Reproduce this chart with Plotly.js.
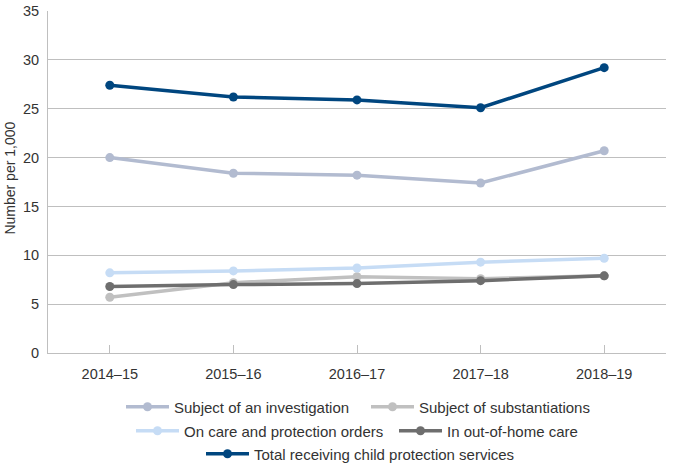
<!DOCTYPE html>
<html>
<head>
<meta charset="utf-8">
<script src="https://cdn.plot.ly/plotly-3.0.1.min.js"></script>
<style>html,body{margin:0;padding:0;background:#fff;}#chart{width:675px;height:468px;}</style>
</head>
<body>
<div id="chart"></div>
<script>
var years = ["2014\u201315", "2015\u201316", "2016\u201317", "2017\u201318", "2018\u201319"];
var investigation = [20.0, 18.4, 18.2, 17.4, 20.7];
var substantiations = [5.7, 7.2, 7.8, 7.6, 7.9];
var careOrders = [8.2, 8.4, 8.7, 9.3, 9.7];
var outOfHome = [6.8, 7.0, 7.1, 7.4, 7.9];
var total = [27.4, 26.2, 25.9, 25.1, 29.2];

var names = ["Subject of an investigation", "Subject of substantiations", "On care and protection orders", "In out-of-home care", "Total receiving child protection services"];
var series = [investigation, substantiations, careOrders, outOfHome, total];
var colors = ["#b2bbd0", "#c0c0c0", "#c6dcf5", "#6e6e6e", "#00467f"];
var legendIds = ["legend", "legend2", "legend3", "legend4", "legend5"];

var traces = series.map(function (s, i) {
  return {
    x: years, y: s, name: names[i], type: "scatter", mode: "lines+markers",
    line: {color: colors[i], width: 3.5},
    marker: {color: colors[i], size: 9},
    legend: legendIds[i]
  };
});

var FONT = "Liberation Sans, Arial, sans-serif";
// legend placement in pixels (left edge of symbol, row centre)
var legPos = [[127, 407], [372, 407], [137, 431], [400, 431], [207, 454]];
function leg(p) {
  return {orientation: "h", x: (p[0] - 6 - 48) / 618, xanchor: "left", xref: "paper",
    y: (468 - p[1]) / 468, yanchor: "middle", yref: "container",
    itemwidth: 43,
    font: {size: 15, color: "#333333", family: FONT},
    bgcolor: "rgba(0,0,0,0)"};
}

var layout = {
  width: 675, height: 468,
  margin: {l: 48, r: 9, t: 11, b: 115, autoexpand: false},
  paper_bgcolor: "#ffffff", plot_bgcolor: "#ffffff",
  font: {family: FONT, size: 14, color: "#333333"},
  showlegend: true,
  xaxis: {
    type: "category", showline: true, linecolor: "#bfbfbf", linewidth: 1,
    ticks: "inside", ticklen: 8, tickcolor: "#bfbfbf", showgrid: false,
    tickfont: {size: 14.5, color: "#333333"}, ticklabelstandoff: 8,
    range: [-0.5, 4.5], fixedrange: true, automargin: false
  },
  yaxis: {
    range: [0, 35], dtick: 5, showline: true, linecolor: "#bfbfbf", linewidth: 1,
    showgrid: true, gridcolor: "#bfbfbf", gridwidth: 1, zeroline: false,
    ticks: "", tickfont: {size: 14.5, color: "#333333"}, ticklabelstandoff: 5,
    automargin: false
  },
  annotations: [{
    text: "Number per 1,000", xref: "paper", yref: "paper", x: -0.062, y: 0.512,
    xanchor: "center", yanchor: "middle", textangle: -90, showarrow: false,
    font: {size: 14, color: "#333333"}
  }]
};
legendIds.forEach(function (id, i) { layout[id] = leg(legPos[i]); });

Plotly.newPlot("chart", traces, layout, {displayModeBar: false, staticPlot: true});
</script>
</body>
</html>
